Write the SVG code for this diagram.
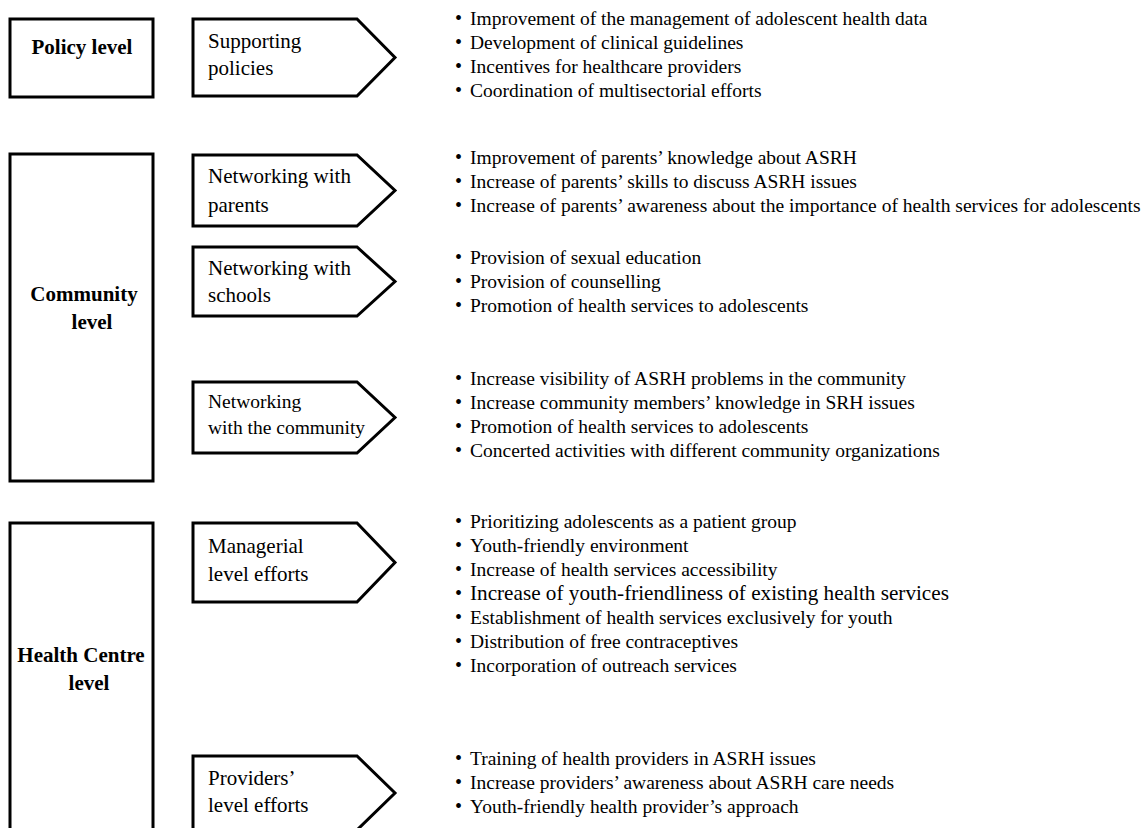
<svg xmlns="http://www.w3.org/2000/svg" width="1147" height="828" viewBox="0 0 1147 828">
<style>
.box{fill:#fff;stroke:#000;stroke-width:3;stroke-linejoin:miter}
.lvl{font-family:"Liberation Serif","Times New Roman",serif;font-weight:bold;font-size:21px;fill:#000;text-anchor:middle}
.lab{font-family:"Liberation Serif","Times New Roman",serif;font-size:21px;fill:#000}
.lab2{font-family:"Liberation Serif","Times New Roman",serif;font-size:19.5px;fill:#000}
.it{font-family:"Liberation Serif","Times New Roman",serif;font-size:19.5px;fill:#000}
.big{font-size:21.2px}
.bul{font-family:"Liberation Serif","Times New Roman",serif;font-size:20px;fill:#000}
</style>
<rect width="1147" height="828" fill="#fff"/>

<g id="policy-level">
<rect class="box" x="10" y="19" width="143" height="78"/>
<text class="lvl" x="82" y="54">Policy level</text>
</g>

<g id="community-level">
<rect class="box" x="10" y="154" width="143" height="327"/>
<text class="lvl" x="84" y="301">Community</text>
<text class="lvl" x="92" y="329">level</text>
</g>

<g id="health-centre-level">
<rect class="box" x="10" y="523" width="143" height="320"/>
<text class="lvl" x="81" y="662">Health Centre</text>
<text class="lvl" x="89" y="690">level</text>
</g>

<g id="supporting-policies">
<path class="box" d="M193,19 H357 L395,57.5 L357,96 H193 Z"/>
<text class="lab" x="208" y="48">Supporting</text>
<text class="lab" x="208" y="75">policies</text>
<text class="bul" x="455" y="25">•</text><text class="bul" x="455" y="49">•</text><text class="bul" x="455" y="73">•</text><text class="bul" x="455" y="97">•</text>
<text class="it" x="470" y="25">Improvement of the management of adolescent health data</text>
<text class="it" x="470" y="49">Development of clinical guidelines</text>
<text class="it" x="470" y="73">Incentives for healthcare providers</text>
<text class="it" x="470" y="97">Coordination of multisectorial efforts</text>
</g>

<g id="networking-parents">
<path class="box" d="M193,155 H357 L395,190.5 L357,226 H193 Z"/>
<text class="lab" x="208" y="183">Networking with</text>
<text class="lab" x="208" y="212">parents</text>
<text class="bul" x="455" y="164">•</text><text class="bul" x="455" y="188">•</text><text class="bul" x="455" y="212">•</text>
<text class="it" x="470" y="164">Improvement of parents’ knowledge about ASRH</text>
<text class="it" x="470" y="188">Increase of parents’ skills to discuss ASRH issues</text>
<text class="it" x="470" y="212">Increase of parents’ awareness about the importance of health services for adolescents</text>
</g>

<g id="networking-schools">
<path class="box" d="M193,247 H357 L395,281.5 L357,316 H193 Z"/>
<text class="lab" x="208" y="275">Networking with</text>
<text class="lab" x="208" y="302">schools</text>
<text class="bul" x="455" y="264">•</text><text class="bul" x="455" y="288">•</text><text class="bul" x="455" y="312">•</text>
<text class="it" x="470" y="264">Provision of sexual education</text>
<text class="it" x="470" y="288">Provision of counselling</text>
<text class="it" x="470" y="312">Promotion of health services to adolescents</text>
</g>

<g id="networking-community">
<path class="box" d="M193,382 H357 L395,417.5 L357,453 H193 Z"/>
<text class="lab2" x="208" y="408">Networking</text>
<text class="lab2" x="208" y="434">with the community</text>
<text class="bul" x="455" y="385">•</text><text class="bul" x="455" y="409">•</text><text class="bul" x="455" y="433">•</text><text class="bul" x="455" y="457">•</text>
<text class="it" x="470" y="385">Increase visibility of ASRH problems in the community</text>
<text class="it" x="470" y="409">Increase community members’ knowledge in SRH issues</text>
<text class="it" x="470" y="433">Promotion of health services to adolescents</text>
<text class="it" x="470" y="457">Concerted activities with different community organizations</text>
</g>

<g id="managerial-efforts">
<path class="box" d="M193,523 H357 L395,562.5 L357,602 H193 Z"/>
<text class="lab" x="208" y="553">Managerial</text>
<text class="lab" x="208" y="581">level efforts</text>
<text class="bul" x="455" y="528">•</text><text class="bul" x="455" y="552">•</text><text class="bul" x="455" y="576">•</text><text class="bul" x="455" y="600">•</text><text class="bul" x="455" y="624">•</text><text class="bul" x="455" y="648">•</text><text class="bul" x="455" y="672">•</text>
<text class="it" x="470" y="528">Prioritizing adolescents as a patient group</text>
<text class="it" x="470" y="552">Youth-friendly environment</text>
<text class="it" x="470" y="576">Increase of health services accessibility</text>
<text class="it big" x="470" y="600">Increase of youth-friendliness of existing health services</text>
<text class="it" x="470" y="624">Establishment of health services exclusively for youth</text>
<text class="it" x="470" y="648">Distribution of free contraceptives</text>
<text class="it" x="470" y="672">Incorporation of outreach services</text>
</g>

<g id="providers-efforts">
<path class="box" d="M193,756 H357 L395,793 L357,830 H193 Z"/>
<text class="lab" x="208" y="785">Providers’</text>
<text class="lab" x="208" y="812">level efforts</text>
<text class="bul" x="455" y="765">•</text><text class="bul" x="455" y="789">•</text><text class="bul" x="455" y="813">•</text>
<text class="it" x="470" y="765">Training of health providers in ASRH issues</text>
<text class="it" x="470" y="789">Increase providers’ awareness about ASRH care needs</text>
<text class="it" x="470" y="813">Youth-friendly health provider’s approach</text>
</g>
</svg>
